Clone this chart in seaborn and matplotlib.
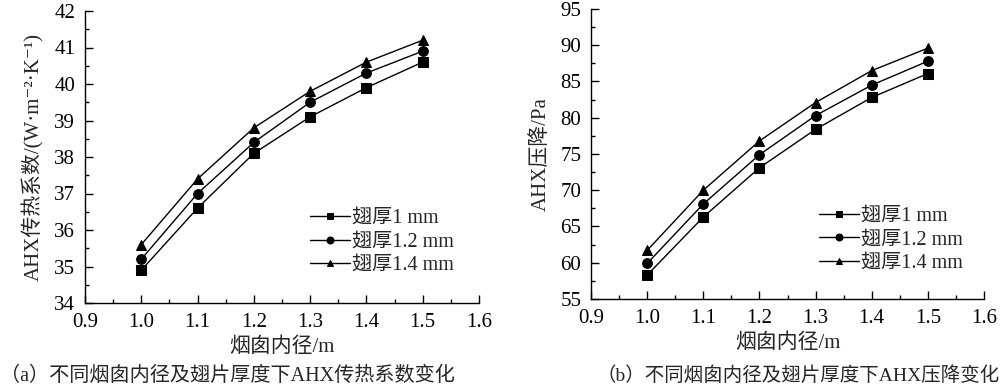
import matplotlib
matplotlib.use("Agg")
import matplotlib.pyplot as plt
from matplotlib.ticker import MultipleLocator
import seaborn as sns
import pandas as pd

# data
diameters = [1.0, 1.1, 1.2, 1.3, 1.4, 1.5]
fin_labels = ["翅厚1 mm", "翅厚1.2 mm", "翅厚1.4 mm"]
htc_1mm = [34.9, 36.6, 38.1, 39.1, 39.9, 40.6]
htc_12mm = [35.2, 37.0, 38.4, 39.5, 40.3, 40.9]
htc_14mm = [35.6, 37.4, 38.8, 39.8, 40.6, 41.2]
dp_1mm = [58.3, 66.3, 73.1, 78.4, 82.8, 86.1]
dp_12mm = [59.9, 68.1, 74.9, 80.3, 84.5, 87.8]
dp_14mm = [61.7, 70.0, 76.8, 82.1, 86.5, 89.6]

sns.set_style("ticks")
plt.rcParams['font.family'] = ['Liberation Serif', 'Noto Sans CJK SC', 'DejaVu Serif']
plt.rcParams['axes.unicode_minus'] = False
plt.rcParams['xtick.direction'] = 'in'
plt.rcParams['ytick.direction'] = 'in'
plt.rcParams['axes.edgecolor'] = 'black'
plt.rcParams['xtick.color'] = 'black'
plt.rcParams['ytick.color'] = 'black'


def long_df(series, col):
    rows = []
    for lab, vals in zip(fin_labels, series):
        for d, v in zip(diameters, vals):
            rows.append({"d": d, col: v, "fin": lab})
    return pd.DataFrame(rows)


df_htc = long_df([htc_1mm, htc_12mm, htc_14mm], "htc")
df_dp = long_df([dp_1mm, dp_12mm, dp_14mm], "dp")

fig = plt.figure(figsize=(10, 3.9), dpi=100)
ax1 = fig.add_axes([0.085, 87 / 390, 0.394, 292 / 390])
ax2 = fig.add_axes([0.591, 91 / 390, 0.393, 290 / 390])

fs = 15


def draw(ax, df, col, ylim, ymajor, yminor, ylabel, leg_xy):
    sns.lineplot(data=df, x="d", y=col, style="fin", markers=["s", "o", "^"],
                 dashes=False, color="black", linewidth=1, markersize=7,
                 markeredgecolor="black", ax=ax)
    ax.set_xlim(0.9, 1.6)
    ax.set_ylim(*ylim)
    ax.xaxis.set_major_locator(MultipleLocator(0.1))
    ax.xaxis.set_minor_locator(MultipleLocator(0.05))
    ax.yaxis.set_major_locator(MultipleLocator(ymajor))
    ax.yaxis.set_minor_locator(MultipleLocator(yminor))
    ax.xaxis.set_major_formatter(plt.FormatStrFormatter("%.1f"))
    ax.tick_params(which="major", length=6, width=1, labelsize=fs)
    ax.tick_params(axis="x", which="major", pad=7)
    ax.tick_params(axis="y", which="major", pad=7)
    ax.tick_params(which="minor", length=3, width=1)
    for s in ["top", "right"]:
        ax.spines[s].set_visible(False)
    for s in ["left", "bottom"]:
        ax.spines[s].set_linewidth(1)
    ax.set_xlabel("烟囱内径/m", fontsize=fs, labelpad=4)
    ax.set_ylabel(ylabel, fontsize=fs, labelpad=7)
    handles, labels = ax.get_legend_handles_labels()
    leg = ax.legend(handles, labels, loc="upper left", bbox_to_anchor=leg_xy,
                    frameon=False, fontsize=14.5, handlelength=2.0,
                    handletextpad=0.1, labelspacing=0.22, borderaxespad=0,
                    borderpad=0)
    for h in leg.legend_handles:
        h.set_markersize(5)


draw(ax1, df_htc, "htc", (34, 42), 1, 0.5, "AHX传热系数/(W·m⁻²·K⁻¹)", (0.571, 0.322))
draw(ax2, df_dp, "dp", (55, 95), 5, 2.5, "AHX压降/Pa", (0.58, 0.318))

fig.text(0.0, 1 - 376 / 390, "（a）不同烟囱内径及翅片厚度下AHX传热系数变化",
         fontsize=14.5, va="center", ha="left")
fig.text(0.596, 1 - 376 / 390, "（b）不同烟囱内径及翅片厚度下AHX压降变化",
         fontsize=14, va="center", ha="left")

fig.savefig("out.png", dpi=100, facecolor="white")
